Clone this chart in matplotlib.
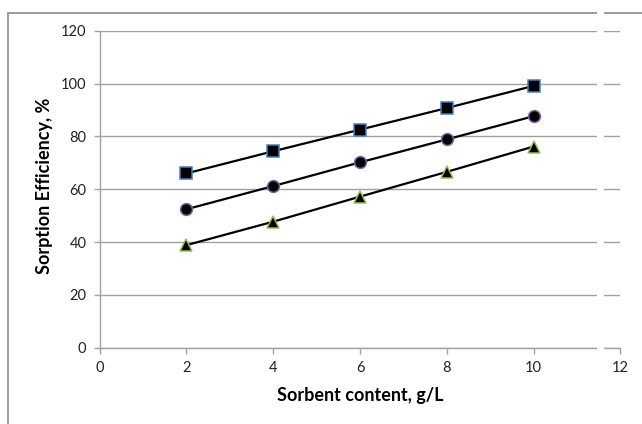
import matplotlib.pyplot as plt
from matplotlib.patches import Rectangle

# Data
sorbent = [2, 4, 6, 8, 10]
eff_square = [66, 74.4, 82.6, 90.8, 99.2]
eff_circle = [52.4, 61.2, 70.2, 78.9, 87.7]
eff_triangle = [38.8, 47.7, 57.2, 66.6, 76.2]

series = [
    (eff_square, 's', '#4a7ebb'),
    (eff_circle, 'o', '#7d5fa0'),
    (eff_triangle, '^', '#9bbb59'),
]

plt.rcParams['font.family'] = ['Lato', 'DejaVu Sans']

fig = plt.figure(figsize=(6.42, 4.24), dpi=100)
ax = fig.add_axes([0.155, 0.1804, 0.8115, 0.7465])

for vals, mk, edge in series:
    ax.plot(sorbent, vals, color='black', lw=1.6, marker=mk, markersize=8.5,
            markerfacecolor='black', markeredgecolor=edge, markeredgewidth=1.1,
            zorder=3)

ax.set_xlim(0, 12)
ax.set_ylim(0, 120)
ax.set_xticks(range(0, 13, 2))
ax.set_yticks(range(0, 121, 20))
ax.grid(axis='y', color='#a0a0a0', lw=1.0)
ax.set_axisbelow(True)

for s in ['top', 'right']:
    ax.spines[s].set_visible(False)
for s in ['left', 'bottom']:
    ax.spines[s].set_color('#a0a0a0')
    ax.spines[s].set_linewidth(1.0)

ax.tick_params(axis='both', direction='out', length=4, width=1.0,
               color='#a0a0a0', labelsize=10.5, labelcolor='#222222')
ax.tick_params(axis='y', pad=5.5)
ax.tick_params(axis='x', pad=6)

ax.set_xlabel('Sorbent content, g/L', fontsize=13, fontweight='bold')
ax.set_ylabel('Sorption Efficiency, %', fontsize=13, fontweight='bold')
ax.xaxis.label.set_va('center')
ax.yaxis.label.set_va('center')
ax.xaxis.set_label_coords(0.5, -0.153)
ax.yaxis.set_label_coords(-0.105, 0.51)

# outer chart frame (runs off the right and bottom edges)
W, H = 642, 424
fig.patches.append(Rectangle((8 / W, -0.1), 1.2, (H - 13) / H + 0.1,
                             transform=fig.transFigure, fill=False,
                             edgecolor='#8c8c8c', lw=1.2, zorder=0))
# thin white strip visible in the reference
fig.patches.append(Rectangle((597 / W, 0.0), 7 / W, 1.0,
                             transform=fig.transFigure, facecolor='white',
                             edgecolor='none', zorder=10))

fig.savefig('out.png', dpi=100)
